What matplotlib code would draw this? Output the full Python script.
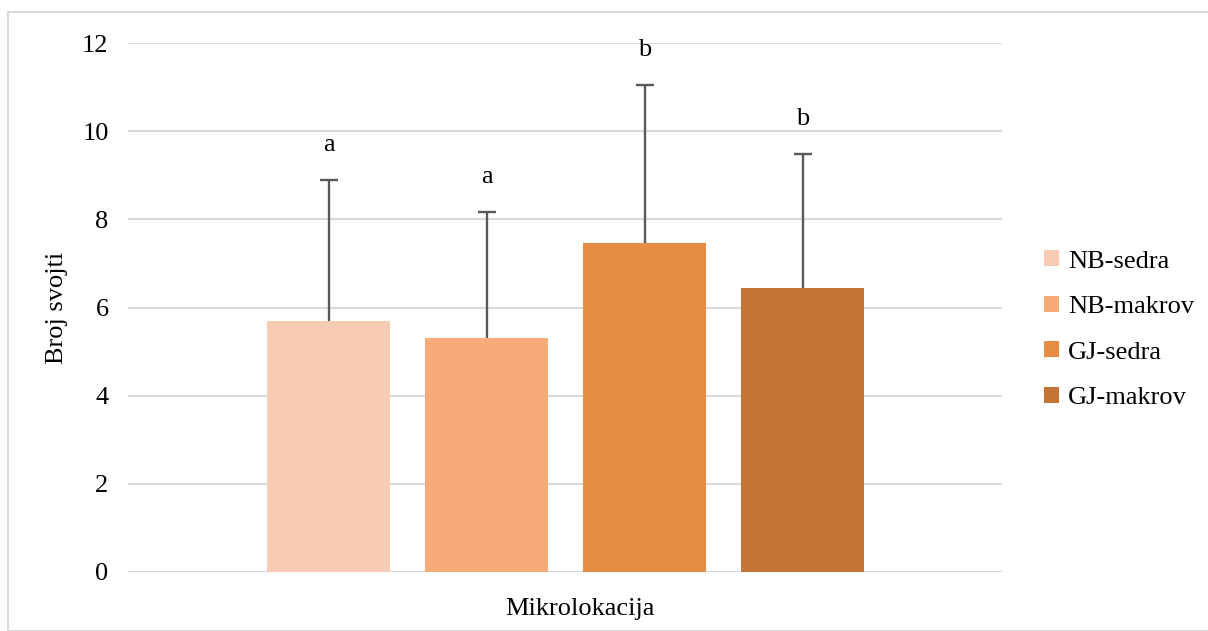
import matplotlib.pyplot as plt
from matplotlib.patches import Rectangle

# data
groups = ["NB-sedra", "NB-makrov", "GJ-sedra", "GJ-makrov"]
means = [5.69, 5.31, 7.46, 6.44]
errors = [3.20, 2.86, 3.59, 3.04]
letters = ["a", "a", "b", "b"]
colors = ["#F8CBB4", "#F7AB79", "#E78D43", "#C47434"]
yticks = [0, 2, 4, 6, 8, 10, 12]

plt.rcParams['font.family'] = ['Liberation Serif', 'DejaVu Serif']

fig = plt.figure(figsize=(12.08, 6.31), dpi=100)
ax = fig.add_axes([128 / 1208, 59 / 631, 874 / 1208, 529 / 631])

# light frame around the whole chart
fig.patches.append(Rectangle((8 / 1208, 0), 1.2, 619 / 631, transform=fig.transFigure,
                             fill=False, edgecolor="#D9D9D9", linewidth=1.5))

xs = range(len(groups))
for x, m, e, c, g, l in zip(xs, means, errors, colors, groups, letters):
    ax.bar(x, m, width=0.78, color=c, label=g, zorder=2)
    # upper error bar only (no cap at the bar top)
    ax.vlines(x, m, m + e, color="#595959", linewidth=1.7, zorder=3)
    ax.plot(x, m + e, marker="_", markersize=13, markeredgewidth=1.7,
            color="#595959", zorder=3)
    ax.annotate(l, (x, m + e), xytext=(0, 17), textcoords="offset points",
                ha="center", va="bottom", fontsize=19)

ax.set_xlim(-1.27, 4.26)
ax.set_ylim(0, 12)
ax.set_yticks(yticks)
ax.set_xticks([])
ax.grid(axis="y", color="#D9D9D9", linewidth=1.5, zorder=0)
ax.tick_params(axis="y", length=0, labelsize=19, pad=14)
for s in ax.spines.values():
    s.set_visible(False)
ax.axhline(0, color="#D9D9D9", linewidth=1.5, zorder=1)

ax.set_ylabel("Broj svojti", fontsize=19, labelpad=10)
ax.set_xlabel("Mikrolokacija", fontsize=19, labelpad=19, x=0.517)

ax.legend(loc="center left", bbox_to_anchor=(1.021, 0.458), frameon=False,
          fontsize=19, handlelength=0.55, handleheight=0.55, handletextpad=0.35,
          labelspacing=0.88)

fig.savefig("out.png", dpi=100)
